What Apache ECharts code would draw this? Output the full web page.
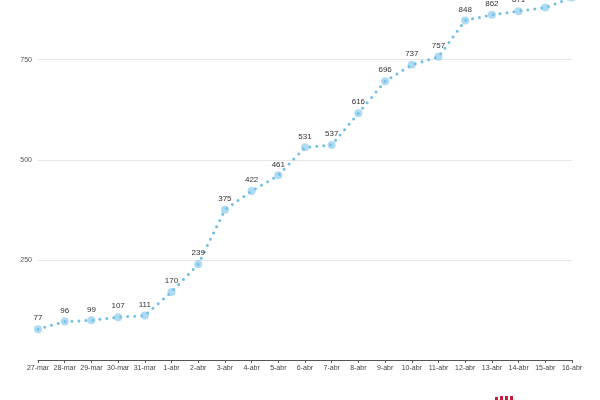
<!DOCTYPE html>
<html><head><meta charset="utf-8">
<script src="https://cdn.jsdelivr.net/npm/echarts@6/dist/echarts.min.js"></script>
<style>html,body{margin:0;padding:0;background:#fff;overflow:hidden;width:600px;height:400px;position:relative}#c{position:absolute;left:0;top:-44px;width:600px;height:444px}</style>
</head><body><div id="c"></div>
<script>
var categories = ['27-mar','28-mar','29-mar','30-mar','31-mar','1-abr','2-abr','3-abr','4-abr','5-abr','6-abr','7-abr','8-abr','9-abr','10-abr','11-abr','12-abr','13-abr','14-abr','15-abr','16-abr'];
var values = [77,96,99,107,111,170,239,375,422,461,531,537,616,696,737,757,848,862,871,880,905];
var yTicks = [0,250,500,750,1000];

var chart = echarts.init(document.getElementById('c'), null, {renderer:'canvas'});
chart.setOption({
  animation:false,
  backgroundColor:'#fff',
  textStyle:{fontFamily:'Liberation Sans, Arial, sans-serif'},
  grid:{left:38,right:28,top:0,bottom:40,containLabel:false},
  xAxis:{type:'category',data:categories,boundaryGap:false,
    axisLine:{lineStyle:{color:'#555',width:1}},
    axisTick:{alignWithLabel:true,length:3,lineStyle:{color:'#555'}},
    axisLabel:{fontSize:7,color:'#444',margin:5,interval:0}},
  yAxis:{type:'value',min:yTicks[0],max:yTicks[yTicks.length-1],interval:250,
    axisLine:{show:false},axisTick:{show:false},
    splitLine:{lineStyle:{color:'#e6e6e6',width:1}},
    axisLabel:{fontSize:7,color:'#555',margin:6,showMinLabel:false,
      formatter:function(v){return yTicks.indexOf(v)>=0?String(v):'';}}},
  series:[{type:'line',data:values,
    symbol:'circle',symbolSize:8,
    itemStyle:{color:'rgba(120,195,235,0.6)'},
    lineStyle:{color:'#6fbfe8',width:3,type:[0,7],cap:'round'},
    label:{show:true,position:'top',distance:3,fontSize:8,color:'#333'}
  }],
  graphic:[
    {type:'rect',shape:{x:495,y:441,width:3,height:3},style:{fill:'#c41e3a'}},
    {type:'rect',shape:{x:500,y:440,width:3,height:4},style:{fill:'#c41e3a'}},
    {type:'rect',shape:{x:505,y:440,width:3,height:4},style:{fill:'#c41e3a'}},
    {type:'rect',shape:{x:510,y:440,width:3,height:4},style:{fill:'#c41e3a'}}
  ]
});
</script></body></html>
